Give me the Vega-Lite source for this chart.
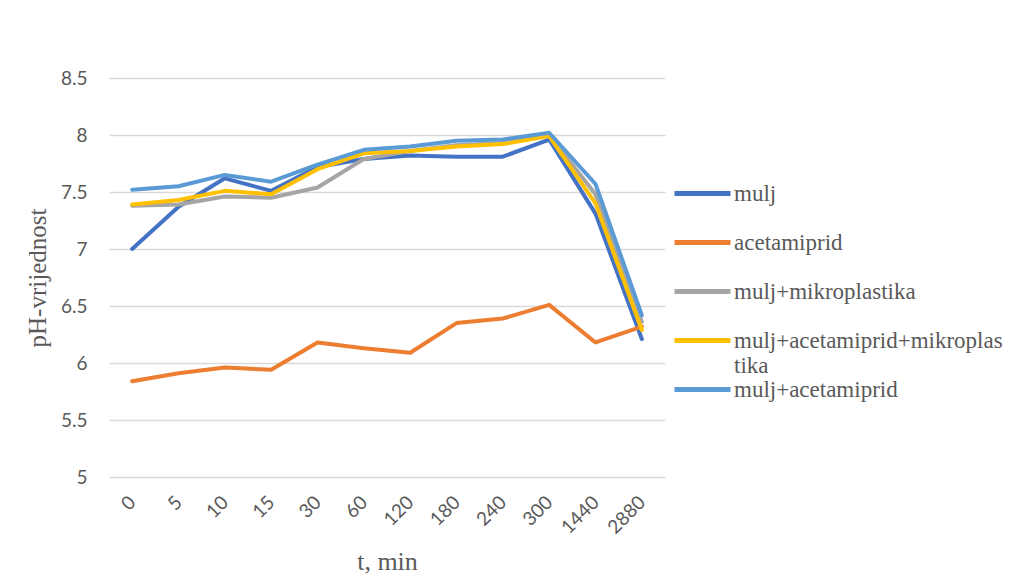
{
  "$schema": "https://vega.github.io/schema/vega-lite/v6.json",
  "width": 556,
  "height": 399,
  "autosize": {"type": "none"},
  "padding": {"left": 109, "top": 78, "right": 346, "bottom": 99},
  "background": "white",
  "config": {
    "view": {"stroke": null},
    "axis": {"gridColor": "#d9d9d9", "gridWidth": 1.3, "domain": false, "ticks": false,
             "labelColor": "#595959", "titleColor": "#595959"},
    "legend": {"labelFont": "Liberation Serif", "labelFontSize": 23, "labelColor": "#595959"}
  },
  "data": {
    "values": [
      {"t": 0, "s": "mulj", "ph": 7.00}, {"t": 5, "s": "mulj", "ph": 7.37}, {"t": 10, "s": "mulj", "ph": 7.62}, {"t": 15, "s": "mulj", "ph": 7.51},
      {"t": 30, "s": "mulj", "ph": 7.72}, {"t": 60, "s": "mulj", "ph": 7.79}, {"t": 120, "s": "mulj", "ph": 7.82}, {"t": 180, "s": "mulj", "ph": 7.81},
      {"t": 240, "s": "mulj", "ph": 7.81}, {"t": 300, "s": "mulj", "ph": 7.96}, {"t": 1440, "s": "mulj", "ph": 7.31}, {"t": 2880, "s": "mulj", "ph": 6.21},
      {"t": 0, "s": "acetamiprid", "ph": 5.84}, {"t": 5, "s": "acetamiprid", "ph": 5.91}, {"t": 10, "s": "acetamiprid", "ph": 5.96}, {"t": 15, "s": "acetamiprid", "ph": 5.94},
      {"t": 30, "s": "acetamiprid", "ph": 6.18}, {"t": 60, "s": "acetamiprid", "ph": 6.13}, {"t": 120, "s": "acetamiprid", "ph": 6.09}, {"t": 180, "s": "acetamiprid", "ph": 6.35},
      {"t": 240, "s": "acetamiprid", "ph": 6.39}, {"t": 300, "s": "acetamiprid", "ph": 6.51}, {"t": 1440, "s": "acetamiprid", "ph": 6.18}, {"t": 2880, "s": "acetamiprid", "ph": 6.32},
      {"t": 0, "s": "mulj+mikroplastika", "ph": 7.38}, {"t": 5, "s": "mulj+mikroplastika", "ph": 7.39}, {"t": 10, "s": "mulj+mikroplastika", "ph": 7.46}, {"t": 15, "s": "mulj+mikroplastika", "ph": 7.45},
      {"t": 30, "s": "mulj+mikroplastika", "ph": 7.54}, {"t": 60, "s": "mulj+mikroplastika", "ph": 7.79}, {"t": 120, "s": "mulj+mikroplastika", "ph": 7.86}, {"t": 180, "s": "mulj+mikroplastika", "ph": 7.91},
      {"t": 240, "s": "mulj+mikroplastika", "ph": 7.93}, {"t": 300, "s": "mulj+mikroplastika", "ph": 8.00}, {"t": 1440, "s": "mulj+mikroplastika", "ph": 7.48}, {"t": 2880, "s": "mulj+mikroplastika", "ph": 6.36},
      {"t": 0, "s": "mulj+acetamiprid+mikroplastika", "ph": 7.39}, {"t": 5, "s": "mulj+acetamiprid+mikroplastika", "ph": 7.43}, {"t": 10, "s": "mulj+acetamiprid+mikroplastika", "ph": 7.51}, {"t": 15, "s": "mulj+acetamiprid+mikroplastika", "ph": 7.48},
      {"t": 30, "s": "mulj+acetamiprid+mikroplastika", "ph": 7.70}, {"t": 60, "s": "mulj+acetamiprid+mikroplastika", "ph": 7.84}, {"t": 120, "s": "mulj+acetamiprid+mikroplastika", "ph": 7.86}, {"t": 180, "s": "mulj+acetamiprid+mikroplastika", "ph": 7.90},
      {"t": 240, "s": "mulj+acetamiprid+mikroplastika", "ph": 7.92}, {"t": 300, "s": "mulj+acetamiprid+mikroplastika", "ph": 7.99}, {"t": 1440, "s": "mulj+acetamiprid+mikroplastika", "ph": 7.40}, {"t": 2880, "s": "mulj+acetamiprid+mikroplastika", "ph": 6.29},
      {"t": 0, "s": "mulj+acetamiprid", "ph": 7.52}, {"t": 5, "s": "mulj+acetamiprid", "ph": 7.55}, {"t": 10, "s": "mulj+acetamiprid", "ph": 7.65}, {"t": 15, "s": "mulj+acetamiprid", "ph": 7.59},
      {"t": 30, "s": "mulj+acetamiprid", "ph": 7.74}, {"t": 60, "s": "mulj+acetamiprid", "ph": 7.87}, {"t": 120, "s": "mulj+acetamiprid", "ph": 7.90}, {"t": 180, "s": "mulj+acetamiprid", "ph": 7.95},
      {"t": 240, "s": "mulj+acetamiprid", "ph": 7.96}, {"t": 300, "s": "mulj+acetamiprid", "ph": 8.02}, {"t": 1440, "s": "mulj+acetamiprid", "ph": 7.57}, {"t": 2880, "s": "mulj+acetamiprid", "ph": 6.42}
    ]
  },
  "mark": {"type": "line", "strokeWidth": 4, "strokeCap": "round", "strokeJoin": "round"},
  "encoding": {
    "x": {
      "field": "t", "type": "ordinal",
      "scale": {"type": "point", "padding": 0.5},
      "axis": {"title": "t, min", "labelAngle": -45, "labelAlign": "right", "labelBaseline": "middle",
               "labelPadding": 22, "labelOffset": 0, "grid": false,
               "labelFont": "Lato", "labelFontSize": 19,
               "titleFont": "Liberation Serif", "titleFontSize": 26, "titleFontWeight": "normal", "titlePadding": 11}
    },
    "y": {
      "field": "ph", "type": "quantitative",
      "scale": {"domain": [5, 8.5], "nice": false, "zero": false},
      "axis": {"title": "pH-vrijednost", "values": [5, 5.5, 6, 6.5, 7, 7.5, 8, 8.5], "format": "~g", "labelPadding": 22,
               "labelFont": "Lato", "labelFontSize": 19,
               "titleFont": "Liberation Serif", "titleFontSize": 25, "titleFontWeight": "normal", "titlePadding": 10}
    },
    "color": {
      "field": "s", "type": "nominal",
      "scale": {
        "domain": ["mulj", "acetamiprid", "mulj+mikroplastika", "mulj+acetamiprid+mikroplastika", "mulj+acetamiprid"],
        "range": ["#4472C4", "#ED7D31", "#A5A5A5", "#FFC000", "#5B9BD5"]
      },
      "legend": {
        "title": null, "orient": "none", "legendX": 561, "legendY": 104,
        "symbolType": "M-1,0H7", "symbolSize": 196, "symbolStrokeWidth": 5,
        "labelFont": "Liberation Serif", "labelFontSize": 23, "labelColor": "#595959",
        "labelOffset": 41, "labelLimit": 0, "rowPadding": 0,
        "labelExpr": "datum.label == 'mulj+acetamiprid+mikroplastika' ? ['mulj+acetamiprid+mikroplas', 'tika'] : [datum.label, '']"
      }
    }
  }
}
